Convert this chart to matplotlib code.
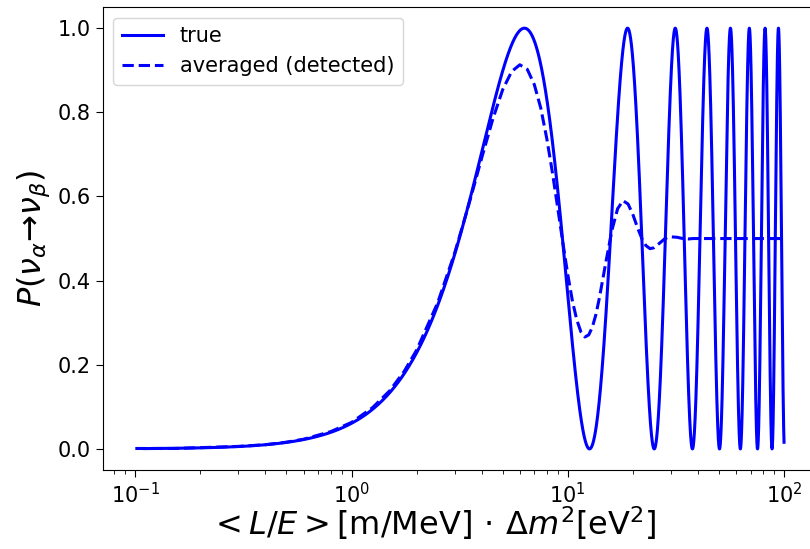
import numpy as np
import matplotlib
matplotlib.use("Agg")
import matplotlib.pyplot as plt

# range of <L/E>*dm^2 shown on the plot
x_min = 0.1
x_max = 100.0

# true oscillation: positions of the extrema (zeros and full peaks)
true_ext_x = [0.0, 6.3, 12.6, 18.9, 25.1, 31.4, 37.7, 44.0, 50.3, 56.5,
              62.8, 69.1, 75.4, 81.7, 88.0, 94.2, 100.5]
true_ext_y = [0.0, 1.0, 0.0, 1.0, 0.0, 1.0, 0.0, 1.0, 0.0, 1.0,
              0.0, 1.0, 0.0, 1.0, 0.0, 1.0, 0.0]

# averaged (detected) probability
avg_x = [0.1, 0.15, 0.2, 0.3, 0.4, 0.5, 0.6, 0.8, 1.0, 1.25, 1.5, 1.75,
         2.0, 2.5, 3.0, 3.5, 4.0, 4.5, 5.0, 5.5, 6.0, 6.5, 7.0, 7.5,
         8, 8.5, 9, 9.5, 10, 10.5, 11, 11.5, 12, 12.5, 13, 13.5,
         14, 15, 16, 17, 18, 19, 20, 21, 22, 23, 24, 25,
         26, 27, 28, 29, 30, 32, 34, 36, 38, 40, 50, 60, 70, 80, 90, 100]
avg_y = [0.001, 0.001, 0.003, 0.006, 0.010, 0.016, 0.023, 0.041, 0.063, 0.098, 0.138, 0.184,
         0.235, 0.347, 0.466, 0.584, 0.692, 0.784, 0.854, 0.897, 0.913, 0.902, 0.866, 0.810,
         0.737, 0.655, 0.570, 0.488, 0.414, 0.352, 0.307, 0.278, 0.266, 0.271, 0.290, 0.320,
         0.359, 0.444, 0.520, 0.571, 0.590, 0.582, 0.557, 0.526, 0.500, 0.483, 0.476, 0.478,
         0.485, 0.492, 0.499, 0.503, 0.504, 0.503, 0.500, 0.499, 0.500, 0.500, 0.500, 0.500,
         0.500, 0.500, 0.500, 0.500]

# join neighbouring extrema with half cosine arcs (shape of sin^2)
tx, ty = [], []
for i in range(len(true_ext_x) - 1):
    t = np.linspace(0, 1, 400)
    tx.append(true_ext_x[i] + t * (true_ext_x[i + 1] - true_ext_x[i]))
    ty.append(true_ext_y[i] + (true_ext_y[i + 1] - true_ext_y[i]) * 0.5 * (1 - np.cos(np.pi * t)))
tx = np.concatenate(tx)
ty = np.concatenate(ty)
keep = (tx >= x_min) & (tx <= x_max)
tx, ty = tx[keep], ty[keep]

fig = plt.figure(figsize=(8.1, 5.49), dpi=100)
ax = fig.add_axes([0.127, 0.144, 0.881, 0.843])

ax.plot(tx, ty, color="blue", lw=2.2, label="true")
ax.plot(avg_x, avg_y, color="blue", lw=2.2, ls="--", label="averaged (detected)")
ax.set_xscale("log")

ax.set_xlabel(r"$<L/E>$[m/MeV]$\,\cdot\,\Delta m^2$[eV$^2$]", fontsize=23)
ax.xaxis.set_label_coords(0.462, -0.075)
ax.xaxis.label.set_va("top")
ax.set_ylabel(r"$P(\nu_\alpha$→$\nu_\beta)$", fontsize=23)
ax.tick_params(labelsize=15)
ax.tick_params(which="major", length=5)
ax.tick_params(which="minor", length=3)
ax.legend(loc="upper left", fontsize=15)

fig.savefig("out.png", dpi=100)
